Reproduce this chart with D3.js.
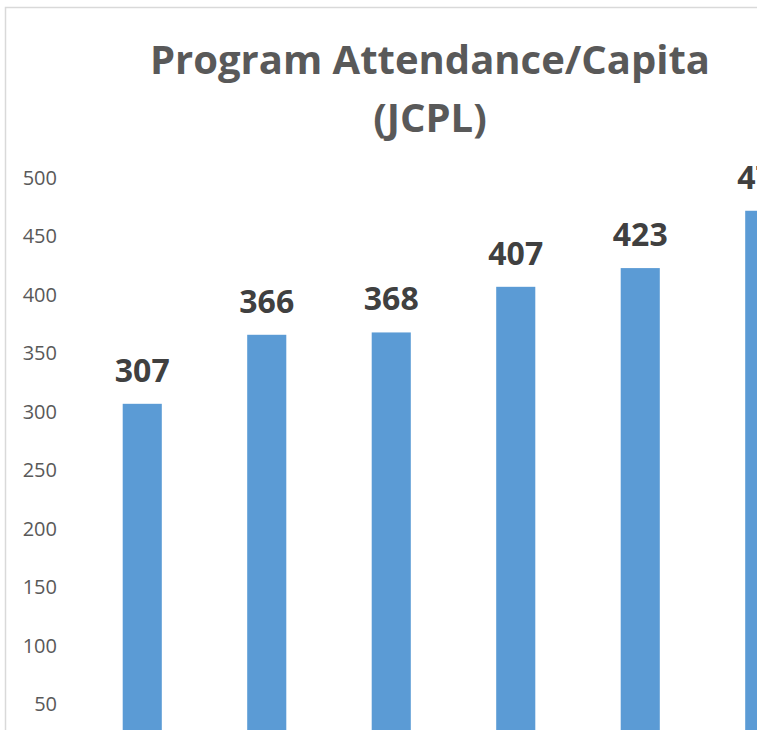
<!DOCTYPE html>
<html>
<head>
<meta charset="utf-8">
<script src="https://cdn.jsdelivr.net/npm/d3@7"></script>
<style>
  body { margin: 0; background: #fff; }
  svg { display: block; }
</style>
</head>
<body>
<script>
// Chart data
const categories = ['2010', '2011', '2012', '2013', '2014', '2015'];
const values = [307, 366, 368, 407, 423, 472];
const yTicks = [50, 100, 150, 200, 250, 300, 350, 400, 450, 500];
const titleLines = ['Program Attendance/Capita', '(JCPL)'];

const svgWidth = 757;
const svgHeight = 730;
const plot = { left: 80, right: 827, top: 178, bottom: 763 }; // plot extends below the visible window

const svg = d3.select('body')
  .append('svg')
  .attr('width', svgWidth)
  .attr('height', svgHeight);

// Chart frame (only top and left edges visible)
svg.append('rect')
  .attr('x', 5.5)
  .attr('y', 7.5)
  .attr('width', 900)
  .attr('height', 900)
  .attr('fill', '#fff')
  .attr('stroke', '#d9d9d9')
  .attr('stroke-width', 1.5);

// Title
svg.append('text')
  .attr('x', 430)
  .attr('y', 74)
  .attr('text-anchor', 'middle')
  .style('font-family', '"Open Sans", sans-serif')
  .style('font-weight', 'bold')
  .style('font-size', '40px')
  .attr('fill', '#595959')
  .selectAll('tspan')
  .data(titleLines)
  .enter()
  .append('tspan')
  .attr('x', 430)
  .attr('dy', (d, i) => i === 0 ? 0 : 58)
  .text(d => d);

const xScale = d3.scaleBand()
  .domain(categories)
  .range([plot.left, plot.right])
  .paddingInner(0.686)
  .paddingOuter(0.343);

const yScale = d3.scaleLinear()
  .domain([0, 500])
  .range([plot.bottom, plot.top]);

// Y axis: labels only, no line or ticks
const yAxis = d3.axisLeft(yScale)
  .tickValues(yTicks)
  .tickSize(0)
  .tickPadding(23);

const yG = svg.append('g')
  .attr('transform', `translate(${plot.left},0)`)
  .call(yAxis);
yG.select('.domain').remove();
yG.selectAll('text')
  .style('font-family', '"Open Sans", sans-serif')
  .style('font-size', '20px')
  .attr('fill', '#595959');

// Bars
svg.selectAll('.bar')
  .data(values)
  .enter()
  .append('rect')
  .attr('class', 'bar')
  .attr('x', (d, i) => xScale(categories[i]))
  .attr('y', d => yScale(d))
  .attr('width', xScale.bandwidth())
  .attr('height', d => plot.bottom - yScale(d))
  .attr('fill', '#5b9bd5');

// Data labels
svg.selectAll('.label')
  .data(values)
  .enter()
  .append('text')
  .attr('class', 'label')
  .attr('x', (d, i) => xScale(categories[i]) + xScale.bandwidth() / 2)
  .attr('y', d => yScale(d) - 22)
  .attr('text-anchor', 'middle')
  .style('font-family', '"Open Sans", sans-serif')
  .style('font-weight', 'bold')
  .style('font-size', '32px')
  .attr('fill', '#404040')
  .text(d => d);
</script>
</body>
</html>
